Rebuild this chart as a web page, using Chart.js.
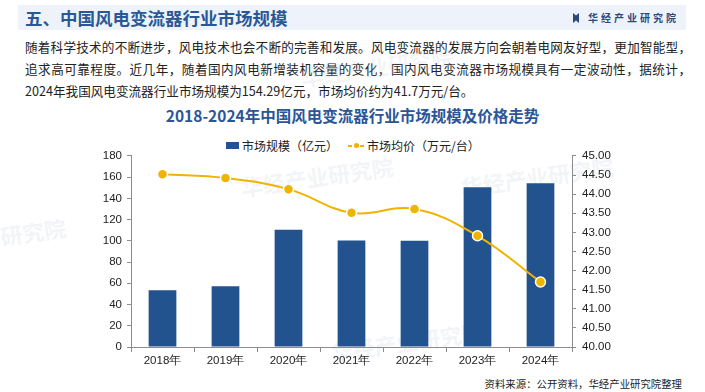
<!DOCTYPE html>
<html>
<head>
<meta charset="utf-8">
<script src="https://cdn.jsdelivr.net/npm/chart.js@4.4.1/dist/chart.umd.min.js"></script>
<style>
  body { margin: 0; width: 705px; height: 392px; background: #fff; overflow: hidden; position: relative;
         font-family: "Noto Sans CJK SC", "Noto Sans", sans-serif; }
  .head { position: absolute; left: 18px; top: 5px; width: 668px; height: 25px; background: #eef3fb; }
  .head h1 { position: absolute; left: 7px; top: 0; margin: 0; font-size: 17.5px; line-height: 25px; color: #2a5896; font-weight: bold; }
  .logo { position: absolute; right: 7px; top: 0; line-height: 25px; font-size: 10px; font-weight: bold; color: #2b4a7e; letter-spacing: 3px; }
  .logo i { display: inline-block; width: 6px; height: 10px; background: #2b4a7e; margin-right: 9px; vertical-align: -1px; clip-path: polygon(0 0, 50% 25%, 100% 0, 100% 100%, 50% 75%, 0 100%); }
  .para { position: absolute; left: 25px; top: 36px; width: 666px; font-size: 12.6px; line-height: 22px; color: #222; }
  .para div { text-align: justify; }
  .para .j { text-align-last: justify; }
  .ctitle { position: absolute; left: 0; width: 705px; top: 104px; text-align: center; font-size: 15.5px; font-weight: bold; color: #2b5597; }
  .legend { position: absolute; top: 136px; left: 226px; font-size: 12px; color: #222; line-height: 16px; white-space: nowrap; }
  .legend span { display: inline-block; vertical-align: middle; }
  .sq { width: 13px; height: 7px; background: #22538f; margin-right: 3px; }
  .ln { width: 17px; height: 2px; margin-left: 10px; margin-right: 2px; position: relative;
        background: repeating-linear-gradient(90deg, #f0b400 0 4px, transparent 4px 6px); }
  .ln::after { content: ""; position: absolute; left: 6px; top: -2px; width: 5px; height: 5px; border-radius: 50%; background: #f0b400; }
  .wm { position: absolute; font-size: 22px; font-weight: bold; color: rgba(190, 200, 215, 0.2); transform: rotate(-8deg); white-space: nowrap; }
  .src { position: absolute; right: 23px; top: 376px; font-size: 10.4px; color: #222; }
  #wrap { position: absolute; left: 0; top: 143px; width: 705px; height: 232px; }
</style>
</head>
<body>
<div class="head"><h1>五、中国风电变流器行业市场规模</h1><div class="logo"><i></i>华经产业研究院</div></div>
<div class="para">
  <div class="j">随着科学技术的不断进步，风电技术也会不断的完善和发展。风电变流器的发展方向会朝着电网友好型，更加智能型，</div>
  <div class="j">追求高可靠程度。近几年，随着国内风电新增装机容量的变化，国内风电变流器市场规模具有一定波动性，据统计，</div>
  <div>2024年我国风电变流器行业市场规模为154.29亿元，市场均价约为41.7万元/台。</div>
</div>
<div class="ctitle">2018-2024年中国风电变流器行业市场规模及价格走势</div>
<div class="legend"><span class="sq"></span><span>市场规模（亿元）</span><span class="ln"></span><span>市场均价（万元/台）</span></div>
<div class="wm" style="left:240px;top:160px">华经产业研究院</div>
<div class="wm" style="left:330px;top:325px">华经产业研究院</div>
<div class="wm" style="left:0px;top:215px">研究院</div>
<div class="wm" style="left:460px;top:160px">华经产业研究院</div>
<div class="wm" style="left:300px;top:50px">华经产业研究院</div>
<div id="wrap"><canvas id="myChart"></canvas></div>
<div class="src">资料来源：公开资料，华经产业研究院整理</div>
<script>
const years = ["2018年", "2019年", "2020年", "2021年", "2022年", "2023年", "2024年"];
const marketSize = [53.5, 57.2, 110.5, 100.2, 100.1, 150.5, 154.29];
const avgPrice = [44.52, 44.42, 44.13, 43.51, 43.61, 42.91, 41.7];

const ctx = document.getElementById('myChart');
const axisColor = '#8c8c8c';

new Chart(ctx, {
  data: {
    labels: years,
    datasets: [
      {
        type: 'line',
        label: '市场均价（万元/台）',
        data: avgPrice,
        yAxisID: 'y1',
        borderColor: '#f0b400',
        borderWidth: 2,
        pointBackgroundColor: '#f0b400',
        pointBorderColor: '#fff',
        pointBorderWidth: 1.5,
        pointRadius: 5,
        tension: 0.4,
        fill: false,
        order: 0
      },
      {
        type: 'bar',
        label: '市场规模（亿元）',
        data: marketSize,
        yAxisID: 'y',
        backgroundColor: '#22538f',
        barPercentage: 0.44,
        categoryPercentage: 1,
        order: 1
      }
    ]
  },
  options: {
    responsive: true,
    maintainAspectRatio: false,
    animation: false,
    layout: { padding: { top: 7, left: 0, right: 0, bottom: 0 } },
    scales: {
      x: {
        offset: true,
        grid: { display: true, drawOnChartArea: false, offset: true, tickLength: 5, color: axisColor },
        border: { color: axisColor },
        ticks: { color: '#222', font: { family: 'Liberation Sans', size: 11.5 }, padding: 2 },
        afterFit: s => { s.height = 28; }
      },
      y: {
        position: 'left',
        min: 0, max: 180,
        ticks: { stepSize: 20, color: '#222', font: { family: 'Liberation Sans', size: 11.5 }, padding: 5 },
        grid: { display: true, drawOnChartArea: false, tickLength: 4, color: axisColor },
        border: { color: axisColor },
        afterFit: s => { s.width = 131; }
      },
      y1: {
        position: 'right',
        min: 40, max: 45,
        ticks: { stepSize: 0.5, color: '#222', font: { family: 'Liberation Sans', size: 11.5 }, padding: 6,
                 callback: v => Number(v).toFixed(2) },
        grid: { display: true, drawOnChartArea: false, tickLength: 4, color: axisColor },
        border: { color: axisColor },
        afterFit: s => { s.width = 133; }
      }
    },
    plugins: {
      legend: { display: false },
      tooltip: { enabled: false }
    }
  }
});
</script>
</body>
</html>
